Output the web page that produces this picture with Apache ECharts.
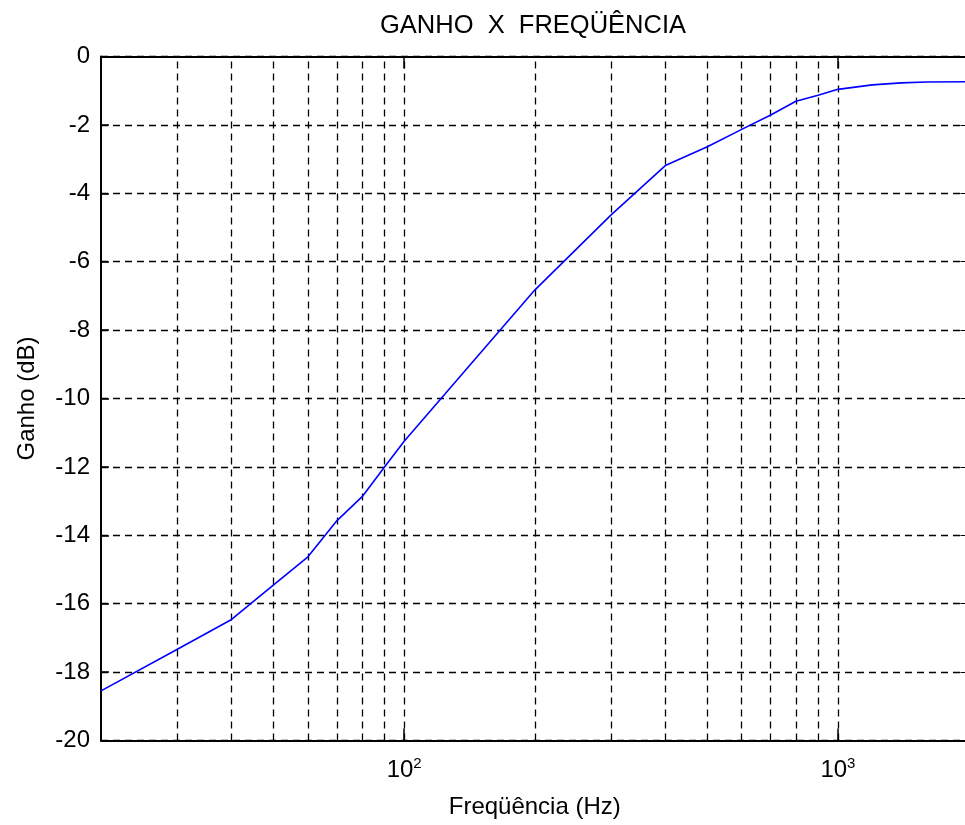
<!DOCTYPE html>
<html>
<head>
<meta charset="utf-8">
<script src="https://cdn.jsdelivr.net/npm/echarts@6/dist/echarts.min.js"></script>
<style>
html,body{margin:0;padding:0;background:#fff;}
#chart{width:965px;height:825px;}
</style>
</head>
<body>
<div id="chart"></div>
<script>
// ---- data ----
const freqHz = [20, 30, 40, 50, 60, 70, 80, 90, 100, 200, 300, 400, 500, 600, 700, 800, 900, 1000, 1200, 1400, 1600, 2000];
const gainDb = [-18.55, -17.33, -16.46, -15.45, -14.63, -13.57, -12.87, -12.01, -11.25, -6.83, -4.63, -3.19, -2.64, -2.13, -1.71, -1.31, -1.13, -0.96, -0.83, -0.77, -0.745, -0.74];
const xGridValues = [30, 40, 50, 60, 70, 80, 90, 100, 200, 300, 400, 500, 600, 700, 800, 900, 1000];
const xMajorTicks = [100, 1000];
const xMajorExponents = ['2', '3'];
const yTicks = [-20, -18, -16, -14, -12, -10, -8, -6, -4, -2, 0];
const titleText = 'GANHO  X  FREQÜÊNCIA';
const xName = 'Freqüência (Hz)';
const yName = 'Ganho (dB)';

const FONT = '"Liberation Sans", Arial, sans-serif';
const chart = echarts.init(document.getElementById('chart'), null, {renderer: 'canvas'});

const points = freqHz.map((f, i) => [f, gainDb[i]]);
const dash = [7, 5];

chart.setOption({
  animation: false,
  backgroundColor: '#fff',
  graphic: [{
    type: 'text',
    x: 533,
    y: 26,
    style: {
      text: titleText,
      fontFamily: FONT,
      fontSize: 25.5,
      fill: '#000',
      textAlign: 'center',
      textVerticalAlign: 'middle'
    }
  }],
  grid: {left: 101, top: 56.5, height: 684, width: 867.5, containLabel: false, outerBoundsMode: 'none'},
  xAxis: [{
    type: 'log',
    logBase: 10,
    min: freqHz[0],
    max: freqHz[freqHz.length - 1],
    position: 'bottom',
    name: xName,
    nameLocation: 'middle',
    nameGap: 55,
    nameTextStyle: {fontFamily: FONT, fontSize: 24, color: '#000'},
    axisLine: {onZero: false, lineStyle: {color: '#000', width: 2}},
    axisTick: {inside: true, length: 12, lineStyle: {color: '#000', width: 1.5}},
    splitLine: {show: false},
    minorTick: {show: false},
    axisLabel: {
      margin: 16,
      color: '#000',
      fontFamily: FONT,
      formatter: function (v) {
        for (let i = 0; i < xMajorTicks.length; i++) {
          if (Math.abs(v - xMajorTicks[i]) < 1e-6 * xMajorTicks[i]) {
            return '{b|10}{s|' + xMajorExponents[i] + '}';
          }
        }
        return '';
      },
      rich: {
        b: {fontFamily: FONT, fontSize: 24, color: '#000', lineHeight: 28},
        s: {fontFamily: FONT, fontSize: 15, color: '#000', verticalAlign: 'top', lineHeight: 28, padding: [0, 0, 12, 0]}
      }
    }
  }, {
    type: 'log',
    logBase: 10,
    min: freqHz[0],
    max: freqHz[freqHz.length - 1],
    position: 'top',
    axisLine: {onZero: false, lineStyle: {color: '#000', width: 2}},
    axisTick: {inside: true, length: 12, lineStyle: {color: '#000', width: 1.5}},
    axisLabel: {show: false},
    splitLine: {show: false}
  }],
  yAxis: [{
    type: 'value',
    min: yTicks[0],
    max: yTicks[yTicks.length - 1],
    interval: 2,
    position: 'left',
    name: yName,
    nameLocation: 'middle',
    nameGap: 62,
    nameTextStyle: {fontFamily: FONT, fontSize: 24, color: '#000'},
    axisLine: {show: true, onZero: false, lineStyle: {color: '#000', width: 2}},
    axisTick: {show: true, inside: true, length: 8, lineStyle: {color: '#000', width: 1.5}},
    axisLabel: {margin: 11, color: '#000', fontFamily: FONT, fontSize: 24},
    splitLine: {show: true, lineStyle: {color: '#000', width: 1.3, type: dash}}
  }, {
    type: 'value',
    min: yTicks[0],
    max: yTicks[yTicks.length - 1],
    interval: 2,
    position: 'right',
    axisLine: {show: true, onZero: false, lineStyle: {color: '#000', width: 2}},
    axisTick: {show: true, inside: true, length: 8},
    axisLabel: {show: false},
    splitLine: {show: false}
  }],
  series: [{
    type: 'line',
    name: 'grid',
    data: points,
    xAxisIndex: 0,
    yAxisIndex: 0,
    showSymbol: false,
    silent: true,
    z: 1,
    lineStyle: {opacity: 0},
    markLine: {
      silent: true,
      symbol: ['none', 'none'],
      label: {show: false},
      emphasis: {disabled: true},
      lineStyle: {color: '#000', width: 1.3, type: dash},
      data: xGridValues.map(v => ({xAxis: v}))
    }
  }, {
    type: 'line',
    name: 'Ganho',
    data: points,
    xAxisIndex: 0,
    yAxisIndex: 0,
    showSymbol: false,
    symbol: 'none',
    smooth: false,
    z: 5,
    lineStyle: {color: '#0000ff', width: 1.6},
    emphasis: {disabled: true}
  }]
});
</script>
</body>
</html>
